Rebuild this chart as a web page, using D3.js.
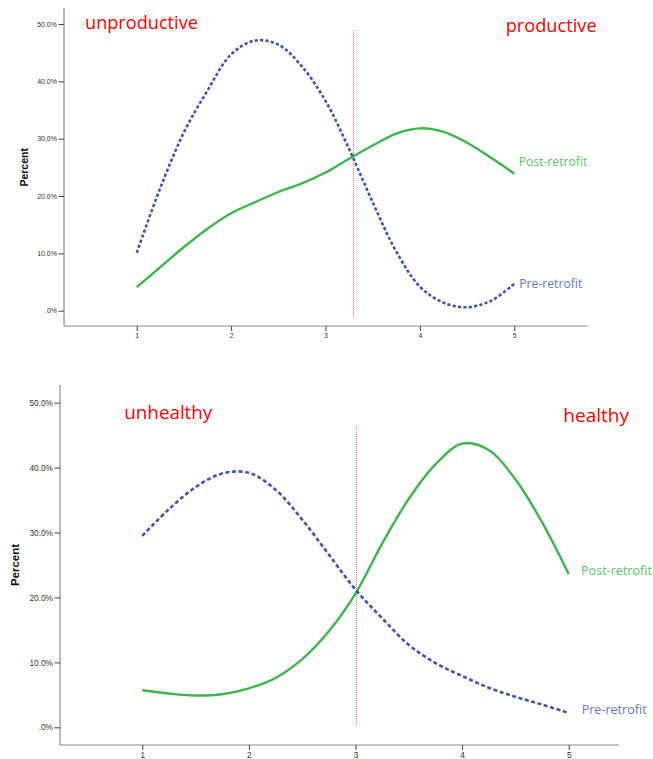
<!DOCTYPE html>
<html><head><meta charset="utf-8">
<script src="https://cdn.jsdelivr.net/npm/d3@7"></script>
<style>body{margin:0;background:#fff}</style>
</head><body><svg id="c" width="653" height="759"></svg>
<script>
// ---- data ----
const xCategories = [1, 2, 3, 4, 5];
const xSamples = [1, 1.25, 1.5, 1.75, 2, 2.25, 2.5, 2.75, 3, 3.25, 3.5, 3.75, 4, 4.25, 4.5, 4.75, 5];
const yTickValues = [0, 10, 20, 30, 40, 50];
const yTickLabels = [".0%", "10.0%", "20.0%", "30.0%", "40.0%", "50.0%"];
const seriesNames = ["Pre-retrofit", "Post-retrofit"];

// Productivity (top)
const prodPre  = [10.1, 21.4, 31.1, 38.4, 44.7, 47.1, 46.4, 42.6, 36.6, 28.2, 18.9, 10.3, 4.2, 1.4, 0.6, 1.7, 4.7];
const prodPost = [4.1, 7.6, 11.1, 14.3, 17.0, 18.9, 20.7, 22.2, 24.1, 26.5, 28.8, 30.9, 31.8, 31.2, 29.3, 26.7, 23.9];
const prodThreshold = 3.29;
const prodLabels = ["unproductive", "productive"];

// Health (bottom)
const healthPre  = [29.5, 33.6, 37.0, 39.1, 39.2, 36.6, 32.0, 26.6, 21.2, 16.8, 12.7, 9.9, 7.9, 6.1, 4.7, 3.5, 2.2];
const healthPost = [5.7, 5.2, 4.9, 5.1, 6.0, 7.6, 10.5, 14.8, 20.6, 28.3, 35.2, 40.5, 43.7, 42.7, 38.2, 31.6, 23.6];
const healthThreshold = 3.0;
const healthLabels = ["unhealthy", "healthy"];

// ---- layout / style ----
const preColor = "#3f56ad", postColor = "#3cb64a";
const preLabelColor = "#6577c4", postLabelColor = "#5cc463";
const svg = d3.select("#c");

const panels = [
  { pre: prodPre, post: prodPost, thr: prodThreshold, words: prodLabels,
    xr: [136.7, 514.3], yr: [310.7, 24], axisX: [64, 587.3], axisY: [8, 326],
    tickFont: 7, percentX: 24, percentFont: 10.5,
    thrY: [49, -1.1], dash: "3.2,2.2",
    wordPos: [{x: 85, y: 29, w: 113}, {x: 505.7, y: 31.7, w: 91}],
    lblPos: [{x: 519.3, y: 287.5, w: 63}, {x: 518.7, y: 166, w: 68.6}] },
  { pre: healthPre, post: healthPost, thr: healthThreshold, words: healthLabels,
    xr: [142.3, 568.7], yr: [727.3, 402.7], axisX: [60, 619], axisY: [385, 745],
    tickFont: 8.3, percentX: 15, percentFont: 11.5,
    thrY: [46.4, 0.35], dash: "4,2.6",
    wordPos: [{x: 124.3, y: 419.3, w: 88}, {x: 563.3, y: 421.7, w: 65.7}],
    lblPos: [{x: 581.7, y: 714, w: 65}, {x: 581, y: 575, w: 71}] }
];

function fitText(sel, w, size) {
  sel.attr("font-size", size);
  const l = sel.node().getComputedTextLength();
  sel.attr("font-size", size * w / l);
}

panels.forEach(p => {
  const x = d3.scaleLinear().domain([1, 5]).range(p.xr);
  const y = d3.scaleLinear().domain([0, 50]).range(p.yr);
  const g = svg.append("g");

  // axis lines
  g.append("line").attr("x1", p.axisX[0]).attr("x2", p.axisX[0])
    .attr("y1", p.axisY[0]).attr("y2", p.axisY[1]).attr("stroke", "#8a8a8a").attr("stroke-width", 1.2);
  g.append("line").attr("x1", p.axisX[0]).attr("x2", p.axisX[1])
    .attr("y1", p.axisY[1]).attr("y2", p.axisY[1]).attr("stroke", "#8a8a8a").attr("stroke-width", 1.2);

  // y axis
  const ya = g.append("g").attr("transform", `translate(${p.axisX[0]},0)`)
    .call(d3.axisLeft(y).tickValues(yTickValues).tickSize(5.5).tickPadding(1.5)
      .tickFormat((d, i) => yTickLabels[i]));
  ya.select(".domain").remove();
  ya.selectAll(".tick line").attr("stroke", "#444");
  ya.selectAll(".tick text").attr("font-family", "Liberation Sans, Arial, sans-serif")
    .attr("font-size", p.tickFont).attr("fill", "#333");

  // x axis
  const xa = g.append("g").attr("transform", `translate(0,${p.axisY[1]})`)
    .call(d3.axisBottom(x).tickValues(xCategories).tickSize(5).tickPadding(2).tickFormat(d3.format("d")));
  xa.select(".domain").remove();
  xa.selectAll(".tick line").attr("stroke", "#444");
  xa.selectAll(".tick text").attr("font-family", "Liberation Sans, Arial, sans-serif")
    .attr("font-size", p.tickFont).attr("fill", "#333");

  // y title
  g.append("text").attr("transform", `translate(${p.percentX},${(p.yr[0] + p.yr[1]) / 2}) rotate(-90)`)
    .attr("text-anchor", "middle").attr("dy", "0.35em")
    .attr("font-family", "Liberation Sans, Arial, sans-serif").attr("font-weight", "bold")
    .attr("font-size", p.percentFont).attr("fill", "#111").text("Percent");

  // threshold (dotted red reference line)
  const tx = Math.round(x(p.thr)) + 0.5;
  g.append("line").attr("x1", tx).attr("x2", tx)
    .attr("y1", y(p.thrY[0])).attr("y2", y(p.thrY[1]))
    .attr("stroke", "#ff7070").attr("stroke-width", 1).attr("stroke-dasharray", "1,1")
    .attr("shape-rendering", "crispEdges");

  const line = d3.line().x((d, i) => x(xSamples[i])).y(d => y(d)).curve(d3.curveCatmullRom.alpha(0.5));
  g.append("path").attr("d", line(p.post)).attr("fill", "none")
    .attr("stroke", postColor).attr("stroke-width", 2.4);
  g.append("path").attr("d", line(p.pre)).attr("fill", "none")
    .attr("stroke", preColor).attr("stroke-width", 2.6).attr("stroke-dasharray", p.dash);

  // red words
  p.words.forEach((w, i) => {
    const t = g.append("text").attr("x", p.wordPos[i].x).attr("y", p.wordPos[i].y)
      .attr("font-family", "Open Sans, sans-serif").attr("fill", "#ff0000").text(w);
    fitText(t, p.wordPos[i].w, 18);
  });
  // series labels
  seriesNames.forEach((s, i) => {
    const t = g.append("text").attr("x", p.lblPos[i].x).attr("y", p.lblPos[i].y)
      .attr("font-family", "Open Sans, sans-serif").attr("fill", i === 0 ? preLabelColor : postLabelColor).text(s);
    fitText(t, p.lblPos[i].w, 12);
  });
});
</script></body></html>
